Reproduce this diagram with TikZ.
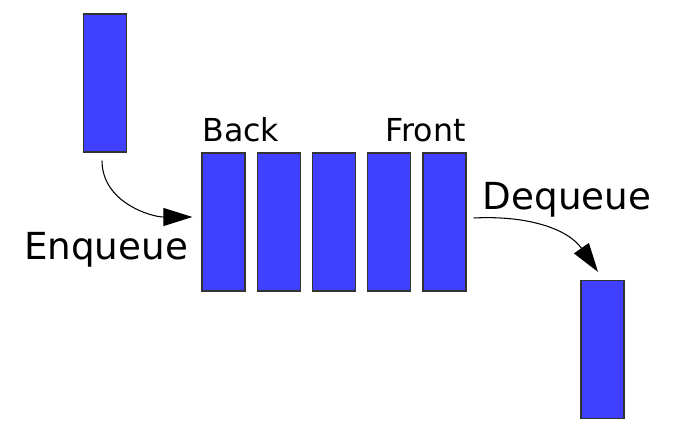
\documentclass[tikz,border=0pt]{standalone}
\usepackage{fontspec}
\setmainfont{DejaVu Sans}
\usetikzlibrary{arrows.meta}
\definecolor{elemblue}{HTML}{4040FF}
\tikzset{
  elem/.style={rectangle,minimum width=0.86cm,minimum height=2.76cm,inner sep=0pt,draw=black!80,line width=0.7pt,fill=elemblue},
  flow/.style={line width=0.6pt,-{Triangle[length=0.58cm,width=0.36cm]}},
  endlabel/.style={font=\fontsize{18}{21}\selectfont,inner sep=0pt},
  oplabel/.style={font=\fontsize{21.2}{24}\selectfont,inner sep=0pt}
}
\begin{document}
\begin{tikzpicture}[x=0.02cm,y=-0.02cm]
\useasboundingbox (0,0) rectangle (682,444);
% element waiting to enter
\node[elem] (newelem) at (105,83) {};
% the queue
\node[elem] (q1) at (223.5,222) {};
\node[elem] (q2) at (279,222) {};
\node[elem] (q3) at (334,222) {};
\node[elem] (q4) at (389,222) {};
\node[elem] (q5) at (444.5,222) {};
% element that has left
\node[elem] (oldelem) at (602.5,349.5) {};
\node[endlabel,anchor=base west] (back) at (202,141) {Back};
\node[endlabel,anchor=base east] (front) at (466,141) {Front};
\node[oplabel,anchor=base] (enq) at (106,259) {Enqueue};
\node[oplabel,anchor=base] (deq) at (567,209) {Dequeue};
\draw[flow] ([xshift=-0.06cm,yshift=-0.16cm]newelem.south) to[out=-90,in=180] ([xshift=-0.18cm,yshift=0.1cm]q1.west);
\draw[flow] ([xshift=0.14cm,yshift=0.08cm]q5.east) to[out=3,in=125] ([xshift=-0.09cm,yshift=0.16cm]oldelem.north);
\end{tikzpicture}
\end{document}
